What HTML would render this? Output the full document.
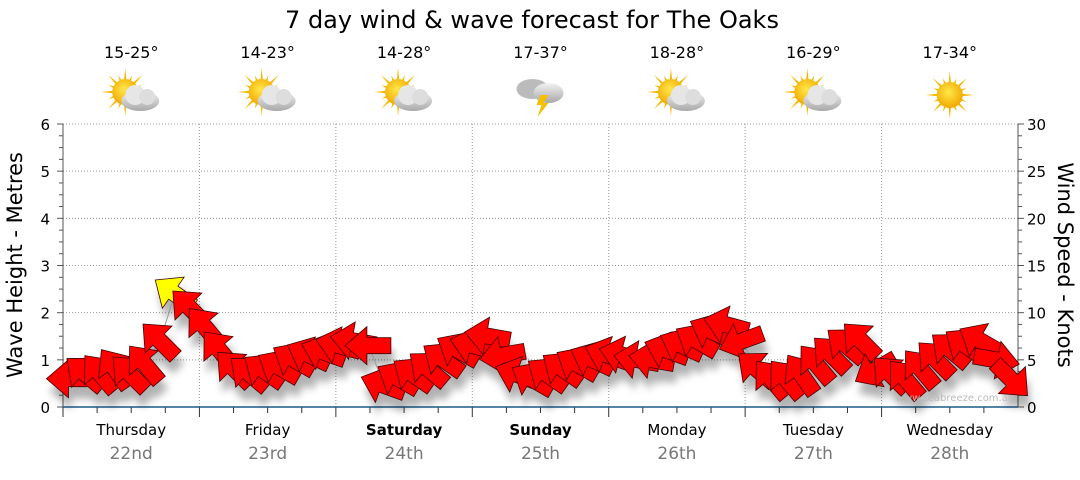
<!DOCTYPE html>
<html><head><meta charset="utf-8"><style>
body{margin:0;background:#fff;font-family:"Liberation Sans","DejaVu Sans",sans-serif;}
svg text{font-family:"DejaVu Sans","Liberation Sans",sans-serif;}
</style></head><body>
<svg id="c" width="1080" height="475" viewBox="0 0 1080 475" xmlns="http://www.w3.org/2000/svg">
<defs>
<radialGradient id="sun" cx="0.45" cy="0.4" r="0.6"><stop offset="0" stop-color="#ffe84a"/><stop offset="1" stop-color="#f2a800"/></radialGradient>
<linearGradient id="cloud" x1="0" y1="0" x2="0" y2="1"><stop offset="0" stop-color="#f2f2f2"/><stop offset="1" stop-color="#a8a8a8"/></linearGradient>
<filter id="sh" x="-50%" y="-50%" width="200%" height="200%"><feGaussianBlur stdDeviation="4"/></filter>
</defs>
<text x="532" y="28" font-size="24" text-anchor="middle">7 day wind &amp; wave forecast for The Oaks</text>
<g id="grid"></g>
<g id="axes"></g>
<g id="shadows" filter="url(#sh)" opacity="0.3"></g>
<g id="line"></g>
<g id="arrows"></g>
<g id="topg"></g>
<text x="955" y="401" font-size="10" fill="#bbb" text-anchor="middle">www.seabreeze.com.au</text>
<text transform="translate(22,265) rotate(-90)" font-size="21" text-anchor="middle">Wave Height - Metres</text>
<text transform="translate(1058,265) rotate(90)" font-size="21" text-anchor="middle">Wind Speed - Knots</text>
</svg>
<script>
const days=["Thursday","Friday","Saturday","Sunday","Monday","Tuesday","Wednesday"];
const dates=["22nd","23rd","24th","25th","26th","27th","28th"];
const boldDays=[false,false,true,true,false,false,false];
const temps=["15-25°","14-23°","14-28°","17-37°","18-28°","16-29°","17-34°"];
const icons=["partly","partly","partly","storm","partly","partly","sunny"];
const waveTicks=[0,1,2,3,4,5,6];
const windTicks=[0,5,10,15,20,25,30];
const windKnots=[3,3.5,3.5,4,3.5,4.5,7,12, 10.5,8.5,6,4,3.5,3.8,4.2,5, 5.5,5.8,6.5,7,6.5,2.3,3,3.4, 4,5,6,6.5,7.5,5.5,3.4,2.9, 3.4,4,4.5,5,5.5,5.5,5,5, 6,6.5,7,8,8.7,7,4,2.9, 2.9,3.4,4.5,5.5,6.5,7,4,3.4, 2.9,4,5,6,6.5,7,5,3];
const windDir=[0,40,50,55,45,50,45,35, 45,50,50,45,40,35,30,30, 25,20,15,10,0,20,30,35, 40,35,30,15,10,-10,20,30, 35,35,30,25,20,15,10,10, 20,25,30,25,15,-20,40,50, 50,55,50,45,40,45,-30,45, 50,50,45,40,35,30,190,225];
const NS="http://www.w3.org/2000/svg";
const X0=63,X1=1018,Y0=407,Y1=124;
const xs=i=>X0+(X1-X0)*(i+0.5)/windKnots.length;
const yW=m=>Y0-(Y0-Y1)*m/6;
const yK=k=>Y0-(Y0-Y1)*k/30;
const dayW=(X1-X0)/7;
function mk(t,a,p){const e=document.createElementNS(NS,t);for(const k in a)e.setAttribute(k,a[k]);(p||document.getElementById('c')).appendChild(e);return e;}
const gridG=document.getElementById('grid'),axesG=document.getElementById('axes'),topG=document.getElementById('topg');
waveTicks.forEach(v=>{
 if(v>0){const g=mk('line',{x1:X0,x2:X1,y1:yW(v),y2:yW(v),stroke:'#999','stroke-dasharray':'1,2'},gridG);
 
 }
 const t=mk('text',{x:50,y:yW(v)+6,'font-size':15,'text-anchor':'end'},axesG);t.textContent=v;
 
 
});
for(let m=0;m<=6;m+=0.25){mk('line',{x1:X0-(m%1==0?6:4),x2:X0,y1:yW(m),y2:yW(m),stroke:'#555'},axesG);}
windTicks.forEach(v=>{
 const t=mk('text',{x:1027,y:yK(v)+6,'font-size':15},axesG);t.textContent=v;
 
 
});
for(let k=0;k<=30;k+=1.25){mk('line',{x1:X1,x2:X1+(k%5==0?6:4),y1:yK(k),y2:yK(k),stroke:'#555'},axesG);}
mk('line',{x1:X0,x2:X0,y1:Y1,y2:Y0,stroke:'#555'},axesG);
mk('line',{x1:X1,x2:X1,y1:Y1,y2:Y0,stroke:'#555'},axesG);
for(let d=0;d<7;d++){
 const x=X0+dayW*d,cx=x+dayW/2;
 if(d>0){const g=mk('line',{x1:x,x2:x,y1:Y1,y2:Y0,stroke:'#999','stroke-dasharray':'1,2'},gridG);
 
 }
 mk('line',{x1:x,x2:x,y1:Y0,y2:Y0+10,stroke:'#333'},axesG);
 for(let q=1;q<4;q++)mk('line',{x1:x+dayW*q/4,x2:x+dayW*q/4,y1:Y0,y2:Y0+6,stroke:'#333'},axesG);
 const dl=mk('text',{x:cx,y:435,'font-size':15,'text-anchor':'middle','font-weight':boldDays[d]?'bold':'normal'},axesG);dl.textContent=days[d];
 
 
 const dt=mk('text',{x:cx,y:459,'font-size':17,'text-anchor':'middle',fill:'#777'},axesG);dt.textContent=dates[d];
 
 
 const tt=mk('text',{x:cx,y:58,'font-size':16,'text-anchor':'middle'},topG);tt.textContent=temps[d];
 
 
 const g=mk('g',{transform:`translate(${cx},95)`},topG);
 
 
 const ic=icons[d];
 if(ic!=='storm'){
  const sx=ic==='sunny'?0:-6,sy=ic==='sunny'?0:-3;
  for(let r=0;r<16;r++){const a=r*Math.PI/8;const L=r%2?18:24;
   mk('polygon',{points:`${sx+Math.cos(a-0.12)*11},${sy+Math.sin(a-0.12)*11} ${sx+Math.cos(a)*L},${sy+Math.sin(a)*L} ${sx+Math.cos(a+0.12)*11},${sy+Math.sin(a+0.12)*11}`,fill:'#f5b800'},g);}
  mk('circle',{cx:sx,cy:sy,r:13,fill:'url(#sun)'},g);
 }
 if(ic==='partly'){
  mk('ellipse',{cx:9,cy:6,rx:19,ry:10,fill:'url(#cloud)'},g);
  mk('circle',{cx:4,cy:0,r:10,fill:'#e6e6e6'},g);mk('circle',{cx:16,cy:2,r:8,fill:'#ddd'},g);
 }
 if(ic==='storm'){
  mk('ellipse',{cx:-8,cy:-6,rx:16,ry:10,fill:'#bbb'},g);
  mk('ellipse',{cx:8,cy:-2,rx:15,ry:10,fill:'url(#cloud)'},g);
  mk('polygon',{points:'0,0 8,0 3,8 8,8 -3,22 1,10 -4,10',fill:'#f5c000'},g);
 }
}
mk('line',{x1:X0,x2:X1,y1:Y0,y2:Y0,stroke:'#1a5a8a','stroke-width':1.5},axesG);
let pts=windKnots.map((k,i)=>`${xs(i)},${yK(k)}`).join(' ');
const pl=mk('polyline',{points:pts,fill:'none',stroke:'#999','stroke-width':1},document.getElementById('line'));


const shape="-24,0 -2,-19 -2,-8 22,-8 22,8 -2,8 -2,19";
const maxI=windKnots.indexOf(Math.max(...windKnots));
windKnots.forEach((k,i)=>{
 const x=xs(i),y=yK(k);
 mk('polygon',{points:shape,transform:`translate(${x+3},${y+12}) rotate(${windDir[i]})`,fill:'#000'},document.getElementById('shadows'));
 const a=mk('polygon',{points:shape,transform:`translate(${x},${y}) rotate(${windDir[i]})`,fill:i===maxI?'#ffff00':'#ff0000',stroke:'#400','stroke-width':0.8},document.getElementById('arrows'));
 
 
});
</script>
</body></html>
